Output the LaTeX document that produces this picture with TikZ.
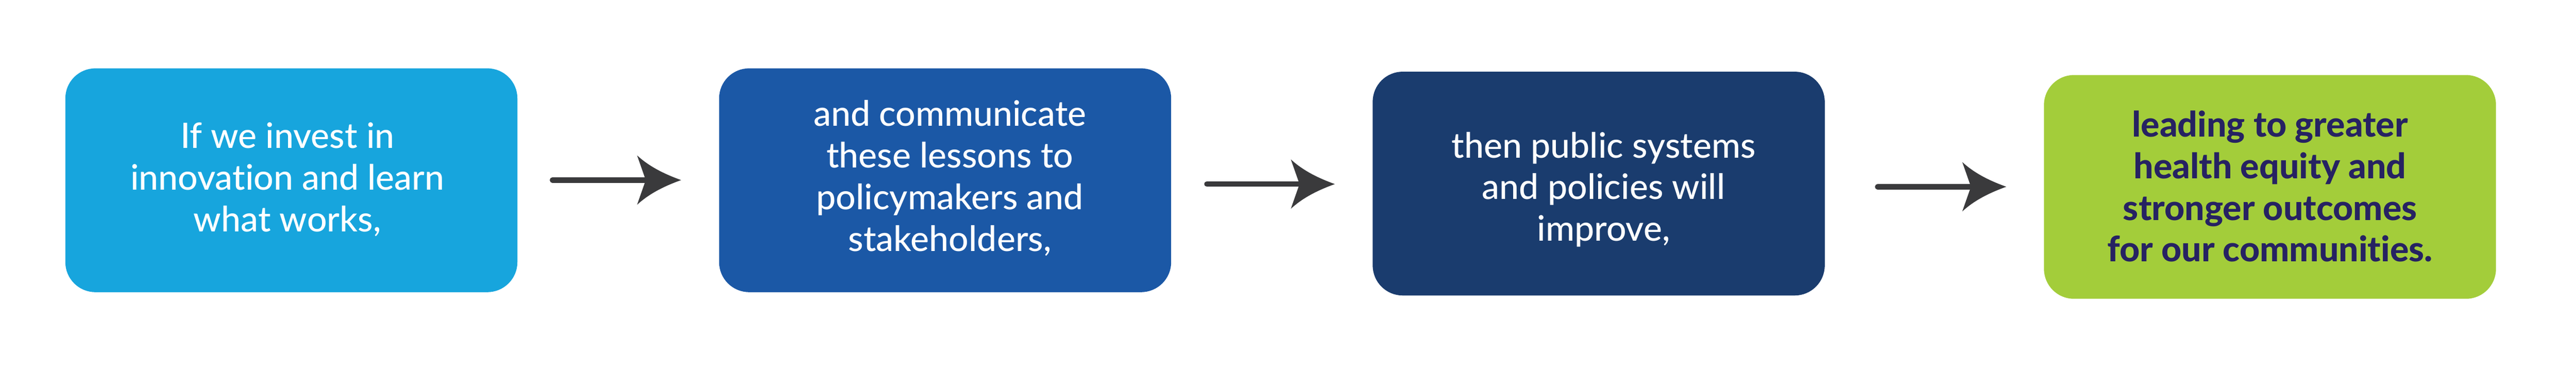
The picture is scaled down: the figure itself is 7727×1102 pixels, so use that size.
\documentclass[tikz,border=0pt]{standalone}
\usepackage{fontspec}
\setmainfont{Lato}[Ligatures=NoCommon]
\newfontfamily\latoheavy{Lato Heavy}[Ligatures=NoCommon]
\newfontfamily\latomedium{Lato Medium}[Ligatures=NoCommon]
\definecolor{cOne}{HTML}{17A5DD}
\definecolor{cTwo}{HTML}{1B58A6}
\definecolor{cThree}{HTML}{1A3C6E}
\definecolor{cFour}{HTML}{A3CD3A}
\definecolor{navyText}{HTML}{262262}
\definecolor{arrowGray}{HTML}{3A3A3C}
\tikzset{
  box/.style={rectangle, rounded corners=9pt, minimum width=135.6pt, minimum height=67.1pt, inner sep=0pt, draw=none},
  txt/.style={align=center, inner sep=0pt, text=white, font=\latomedium\fontsize{10.5}{12.5}\selectfont},
  txtbold/.style={align=center, inner sep=0pt, text=navyText, font=\latoheavy\fontsize{10.5}{12.5}\selectfont},
  arrowline/.style={draw=arrowGray, line width=1.6pt, line cap=round, shorten >=10pt},
  headpic/.pic={\fill[arrowGray] (0,0) .. controls (-50,-18) and (-95,-40) .. (-132,-74) -- (-106,0) -- (-132,74) .. controls (-95,40) and (-50,18) .. (0,0) -- cycle;}
}
\begin{document}
\begin{tikzpicture}[x=0.1pt,y=-0.1pt]
\useasboundingbox (0,0) rectangle (7727,1102);
\node[box, fill=cOne] (b1) at (874,540.5) {};
\node[box, fill=cTwo] (b2) at (2835,540.5) {};
\node[box, fill=cThree] (b3) at (4795.5,550.5) {};
\node[box, fill=cFour] (b4) at (6809,560.5) {};
\node[txt, anchor=base] (t1) at (862,694) {If we invest in\\innovation and learn\\what works,};
\node[txt, anchor=base] (t2) at (2849,753) {and communicate\\these lessons to\\policymakers and\\stakeholders,};
\node[txt, anchor=base] (t3) at (4810,723) {then public systems\\and policies will\\improve,};
\node[txtbold, anchor=base] (t4) at (6809,785) {leading to greater\\health equity and\\stronger outcomes\\for our communities.};
\coordinate (a1s) at (1657,540); \coordinate (a1e) at (2043,540);
\coordinate (a2s) at (3620,552); \coordinate (a2e) at (4004,552);
\coordinate (a3s) at (5632,560); \coordinate (a3e) at (6018,560);
\draw[arrowline] (a1s) -- (a1e);
\draw[arrowline] (a2s) -- (a2e);
\draw[arrowline] (a3s) -- (a3e);
\pic at (a1e) {headpic};
\pic at (a2e) {headpic};
\pic at (a3e) {headpic};
\end{tikzpicture}
\end{document}
